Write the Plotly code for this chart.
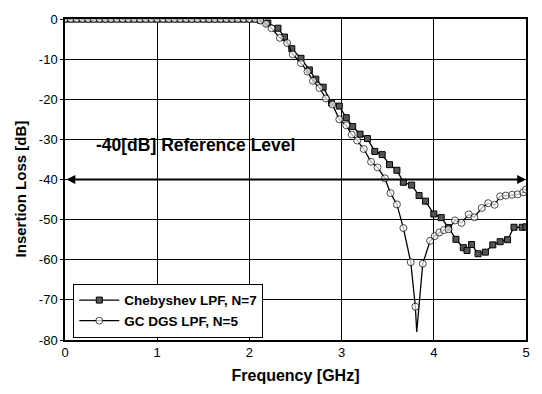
import plotly.graph_objects as go

# ---- data ----
base_f = [0.0, 0.0625, 0.125, 0.1875, 0.25, 0.3125, 0.375, 0.4375, 0.5, 0.5625, 0.625, 0.6875,
          0.75, 0.8125, 0.875, 0.9375, 1.0, 1.0625, 1.125, 1.1875, 1.25, 1.3125, 1.375, 1.4375,
          1.5, 1.5625, 1.625, 1.6875, 1.75, 1.8125, 1.875, 1.9375, 2.0, 2.0625]
base_db = [0.0, 0.0, 0.0, 0.0, 0.0, 0.0, 0.0, 0.0, 0.0, 0.0, 0.0, 0.0,
           0.0, 0.0, 0.0, 0.0, 0.0, 0.0, 0.0, 0.0, 0.0, 0.0, 0.0, 0.0,
           0.0, 0.0, 0.0, 0.0, 0.0, 0.0, 0.0, 0.0, 0.0, 0.0]

cheb_f = [2.12, 2.20, 2.31, 2.38, 2.46, 2.56, 2.65, 2.72, 2.80, 2.89, 2.975, 3.05, 3.12, 3.20,
          3.28, 3.36, 3.44, 3.52, 3.60, 3.67, 3.76, 3.84, 3.91, 4.00, 4.08, 4.16, 4.24, 4.32,
          4.36, 4.41, 4.48, 4.56, 4.64, 4.72, 4.80, 4.87, 4.96, 5.0]
cheb_db = [-0.3, -1.0, -2.3, -4.5, -7.4, -9.8, -12.7, -15.0, -17.0, -20.9, -21.7, -24.6, -26.8, -28.7,
           -29.8, -33.0, -33.8, -36.3, -37.7, -40.7, -41.4, -44.0, -45.4, -48.6, -49.5, -52.0, -54.9, -57.0,
           -57.7, -56.2, -58.5, -58.1, -56.3, -55.5, -55.0, -51.9, -51.9, -51.8]

dgs_f = [2.12, 2.18, 2.24, 2.33, 2.41, 2.47, 2.56, 2.63, 2.69, 2.76, 2.83, 2.90, 2.975, 3.05,
         3.11, 3.17, 3.24, 3.32, 3.39, 3.47, 3.53, 3.60, 3.67, 3.75, 3.80, 3.815, 3.88, 3.96,
         4.01, 4.06, 4.11, 4.16, 4.23, 4.30, 4.38, 4.44, 4.52, 4.59, 4.66, 4.72, 4.78, 4.85,
         4.91, 4.97, 5.0]
dgs_db = [-0.4, -1.2, -2.3, -4.7, -6.0, -8.8, -11.0, -13.1, -15.4, -17.2, -19.8, -21.3, -25.0, -26.5,
          -28.8, -30.3, -32.4, -35.6, -37.0, -39.7, -43.4, -46.2, -52.1, -60.6, -71.7, -78.0, -61.0, -55.3,
          -54.1, -53.2, -52.6, -52.4, -50.2, -50.8, -48.7, -49.4, -47.1, -45.9, -46.3, -44.2, -44.0, -43.8,
          -43.7, -43.2, -42.5]

ref_level = -40
x_ticks = [0, 1, 2, 3, 4, 5]
y_ticks = [0, -10, -20, -30, -40, -50, -60, -70, -80]

FONT = "Liberation Sans, Arial, sans-serif"

cx = base_f + cheb_f
cy = base_db + cheb_db
dx = base_f + dgs_f
dy = base_db + dgs_db
d_sizes = [7 if v != -78.0 else 0 for v in dy]

fig = go.Figure()
fig.add_trace(go.Scatter(
    x=cx, y=cy, mode="lines+markers", name="<b>Chebyshev LPF, N=7</b>",
    line=dict(color="black", width=1.3),
    marker=dict(symbol="square", size=6, color="#555555", line=dict(color="black", width=1)),
    cliponaxis=True))
fig.add_trace(go.Scatter(
    x=dx, y=dy, mode="lines+markers", name="<b>GC DGS LPF, N=5</b>",
    line=dict(color="black", width=1.3),
    marker=dict(symbol="circle", size=d_sizes, color="white", line=dict(color="black", width=1)),
    cliponaxis=True))

# reference level double arrow
fig.add_annotation(x=5, y=ref_level, ax=0, ay=ref_level, xref="x", yref="y", axref="x", ayref="y",
                   text="", showarrow=True, arrowhead=2, arrowside="end+start", arrowwidth=2.2,
                   arrowcolor="black", arrowsize=0.8)
fig.add_annotation(x=1.42, y=-31.3, xref="x", yref="y", text="<b>-40[dB] Reference Level</b>",
                   showarrow=False, font=dict(family=FONT, size=17.5, color="black"))
# y-axis title placed as in the reference
fig.add_annotation(x=-0.097, y=0.47, xref="paper", yref="paper", xanchor="center", yanchor="middle",
                   text="<b>Insertion Loss [dB]</b>", textangle=-90, showarrow=False,
                   font=dict(family=FONT, size=15, color="black"))

fig.update_layout(
    width=542, height=394,
    margin=dict(l=65, r=12, t=15, b=53),
    paper_bgcolor="white", plot_bgcolor="white",
    font=dict(family=FONT, size=13, color="black"),
    showlegend=True,
    legend=dict(x=0.018, y=0.175, xanchor="left", yanchor="top",
                bordercolor="black", borderwidth=1, bgcolor="white",
                font=dict(family=FONT, size=13.5, color="black"),
                tracegroupgap=0, itemwidth=40),
    xaxis=dict(range=[0, 5], tickvals=x_ticks, ticktext=[str(v) for v in x_ticks],
               showgrid=True, gridcolor="black", gridwidth=1,
               showline=True, linecolor="black", linewidth=1.5, mirror=True,
               ticks="", zeroline=False, tickfont=dict(size=13),
               title=dict(text="<b>Frequency [GHz]</b>", font=dict(family=FONT, size=16), standoff=10)),
    yaxis=dict(range=[-80, 0], tickvals=y_ticks, ticktext=[str(v) for v in y_ticks],
               showgrid=True, gridcolor="black", gridwidth=1,
               showline=True, linecolor="black", linewidth=1.5, mirror=True,
               ticks="outside", ticklen=3, tickcolor="black", zeroline=False, tickfont=dict(size=13)),
)

fig.write_html("out.html")
